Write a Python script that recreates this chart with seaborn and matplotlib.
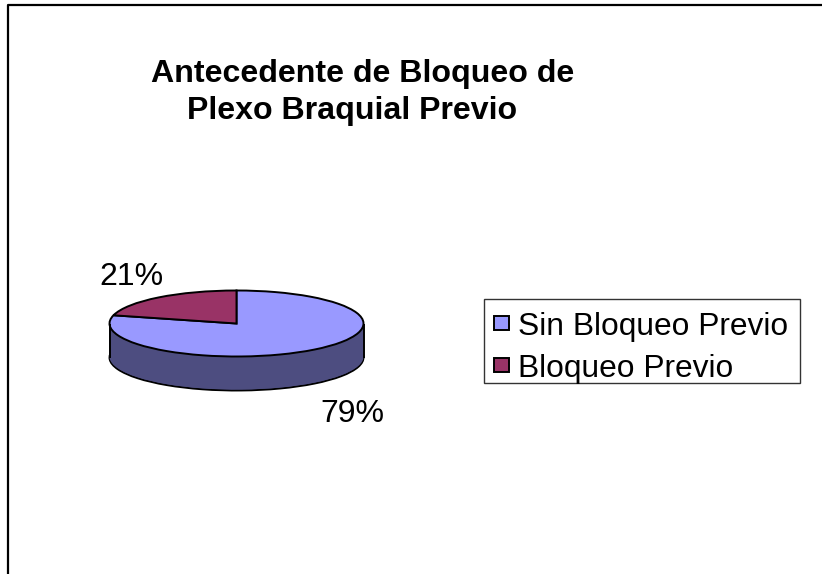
import numpy as np
import matplotlib
matplotlib.use('Agg')
import matplotlib.pyplot as plt
import seaborn as sns
from matplotlib.lines import Line2D
from matplotlib.patches import Rectangle

categories = ['Sin Bloqueo Previo', 'Bloqueo Previo']
values = [79, 21]
pct_labels = ['79%', '21%']
top_colors = ['#9999FF', '#993366']
side_colors = ['#4D4D80', '#4D1A33']

W, H = 822, 574

sns.set_theme(style='white')
plt.rcParams['font.family'] = ['Liberation Sans', 'DejaVu Sans']

fig = plt.figure(figsize=(W / 100, H / 100), dpi=100)
fig.patch.set_facecolor('white')

# chart frame: only left and top show, the rest is cut by the image edge
fig.add_artist(Line2D([7.5 / W, 7.5 / W, 1], [0, 1 - 5 / H, 1 - 5 / H], transform=fig.transFigure,
                      color='black', linewidth=1.6))

# pie ellipse: center 236.5,323.5 rx 127 ry 33 in pixels
cx, cy, rx, ry = 236.5, 323.5, 127, 33
depth = 34 / ry
ax = fig.add_axes([(cx - rx) / W, 1 - (cy + ry + 34) / H, 2 * rx / W, (2 * ry + 34) / H])

# side of the pie, stacked copies going up
for i, d in enumerate(np.linspace(depth, 0, 40)):
    kw = dict(edgecolor='black', linewidth=1.4) if i == 0 else dict(edgecolor='none', linewidth=0)
    ax.pie(values, colors=side_colors, startangle=90, counterclock=False, center=(0, -d),
           wedgeprops=kw, frame=True)
ax.vlines([-1, 1], -depth, 0, color='black', linewidth=1.4)
ax.pie(values, colors=top_colors, startangle=90, counterclock=False,
       wedgeprops=dict(edgecolor='black', linewidth=1.4), frame=True)
ax.set_aspect('auto')
ax.set_xlim(-1, 1)
ax.set_ylim(-1 - depth, 1)
ax.axis('off')
for w in ax.patches:
    w.set_clip_on(False)
for c in ax.collections:
    c.set_clip_on(False)

# title lines are not centred on each other in the original
fig.text(363 / W, 1 - 82 / H, 'Antecedente de Bloqueo de', ha='center', va='baseline',
         fontsize=23.1, fontweight='bold', color='black')
fig.text(352.5 / W, 1 - 119 / H, 'Plexo Braquial Previo', ha='center', va='baseline',
         fontsize=23.1, fontweight='bold', color='black')

fig.text(131.5 / W, 1 - 285 / H, pct_labels[1], ha='center', va='baseline', fontsize=23, color='black')
fig.text(352 / W, 1 - 422 / H, pct_labels[0], ha='center', va='baseline', fontsize=23, color='black')

# legend box
fig.add_artist(Rectangle((484 / W, 1 - 383 / H), (800 - 484) / W, (383 - 299) / H, transform=fig.transFigure,
                         facecolor='white', edgecolor='#333333', linewidth=1.0))
for name, col, y in zip(categories, top_colors, [335, 377]):
    fig.add_artist(Rectangle((494 / W, 1 - (y - 5) / H), 14.5 / W, 14.5 / H, transform=fig.transFigure,
                             facecolor=col, edgecolor='black', linewidth=1.4))
    fig.text(518 / W, 1 - y / H, name, ha='left', va='baseline', fontsize=22.9, color='black')

fig.savefig('out.png', dpi=100)
